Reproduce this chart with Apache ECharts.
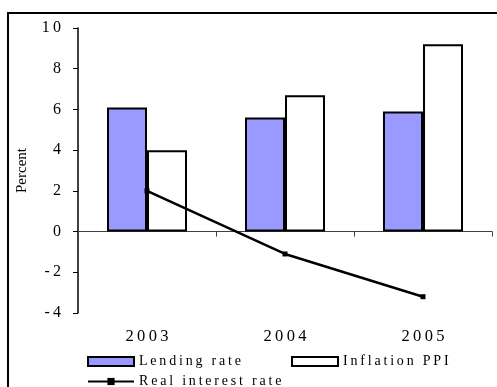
<!DOCTYPE html>
<html>
<head>
<meta charset="utf-8">
<script src="https://cdn.jsdelivr.net/npm/echarts@6/dist/echarts.min.js"></script>
<style>
html,body{margin:0;padding:0;background:#fff;}
#chart{width:497px;height:387px;}
</style>
</head>
<body>
<div id="chart"></div>
<script>
var years = ['2003', '2004', '2005'];
var lendingRate = [6.1, 5.6, 5.9];
var inflationPPI = [4.0, 6.7, 9.2];
var realInterestRate = [2.0, -1.1, -3.2];
var yTicks = { min: -4, max: 10, interval: 2 };

var SERIF = '"Liberation Serif", "Times New Roman", serif';
function spaced(s) { return String(s).split('').join('\u2009'); }

var chart = echarts.init(document.getElementById('chart'), null, { renderer: 'canvas' });
var legendBase = {
  orient: 'horizontal', padding: 0, itemWidth: 46, itemHeight: 9,
  textStyle: { fontFamily: SERIF, fontSize: 14, color: '#000', lineHeight: 14 },
  formatter: function (n) { return spaced(n); },
  selectedMode: false
};
chart.setOption({
  animation: false,
  backgroundColor: '#fff',
  graphic: [{
    type: 'rect', shape: { x: 8, y: 13, width: 600, height: 600 },
    style: { fill: 'none', stroke: '#000', lineWidth: 2 }, silent: true, z: 100
  }],
  grid: { left: 78, top: 28, right: 5, bottom: 74, containLabel: false },
  legend: [
    Object.assign({}, legendBase, { left: 87, top: 354.5, data: [{ name: 'Lending rate', icon: 'rect', itemStyle: { color: '#9999FF', borderColor: '#000', borderWidth: 2 } }] }),
    Object.assign({}, legendBase, { left: 291, top: 354.5, data: [{ name: 'Inflation PPI', icon: 'rect', itemStyle: { color: '#fff', borderColor: '#000', borderWidth: 2 } }] }),
    Object.assign({}, legendBase, { left: 87, top: 374.5, data: ['Real interest rate'] })
  ],
  xAxis: [{
    type: 'category', data: years, position: 'bottom',
    axisLine: { onZero: true, lineStyle: { color: '#404040', width: 1 } },
    axisTick: { show: true, inside: false, length: 5, lineStyle: { color: '#404040' } },
    axisLabel: { show: false }, splitLine: { show: false }
  }, {
    type: 'category', data: years, position: 'bottom', gridIndex: 0,
    axisLine: { show: false, onZero: false }, axisTick: { show: false },
    axisLabel: { show: true, margin: 15, fontFamily: SERIF, fontSize: 16.5, color: '#000', formatter: function (v) { return spaced(v); } },
    splitLine: { show: false }
  }],
  yAxis: {
    type: 'value', min: yTicks.min, max: yTicks.max, interval: yTicks.interval,
    name: 'Percent', nameLocation: 'middle', nameRotate: 90, nameGap: 48,
    nameTextStyle: { fontFamily: SERIF, fontSize: 15, color: '#000' },
    axisLine: { show: true, lineStyle: { color: '#000', width: 1.5 } },
    axisTick: { show: true, inside: false, length: 5, lineStyle: { color: '#000' } },
    axisLabel: { margin: 17, fontFamily: SERIF, fontSize: 16, color: '#000', formatter: function (v) { return spaced(v); } },
    splitLine: { show: false }
  },
  series: [{
    name: 'Lending rate', type: 'bar', data: lendingRate, barWidth: 40, barGap: '0%',
    itemStyle: { color: '#9999FF', borderColor: '#000', borderWidth: 2 }
  }, {
    name: 'Inflation PPI', type: 'bar', data: inflationPPI, barWidth: 40, barGap: '0%',
    itemStyle: { color: '#fff', borderColor: '#000', borderWidth: 2 }
  }, {
    name: 'Real interest rate', type: 'line', data: realInterestRate,
    symbol: 'rect', symbolSize: 5, showSymbol: true,
    lineStyle: { color: '#000', width: 2.5 }, itemStyle: { color: '#000' }, z: 5
  }]
});
</script>
</body>
</html>
